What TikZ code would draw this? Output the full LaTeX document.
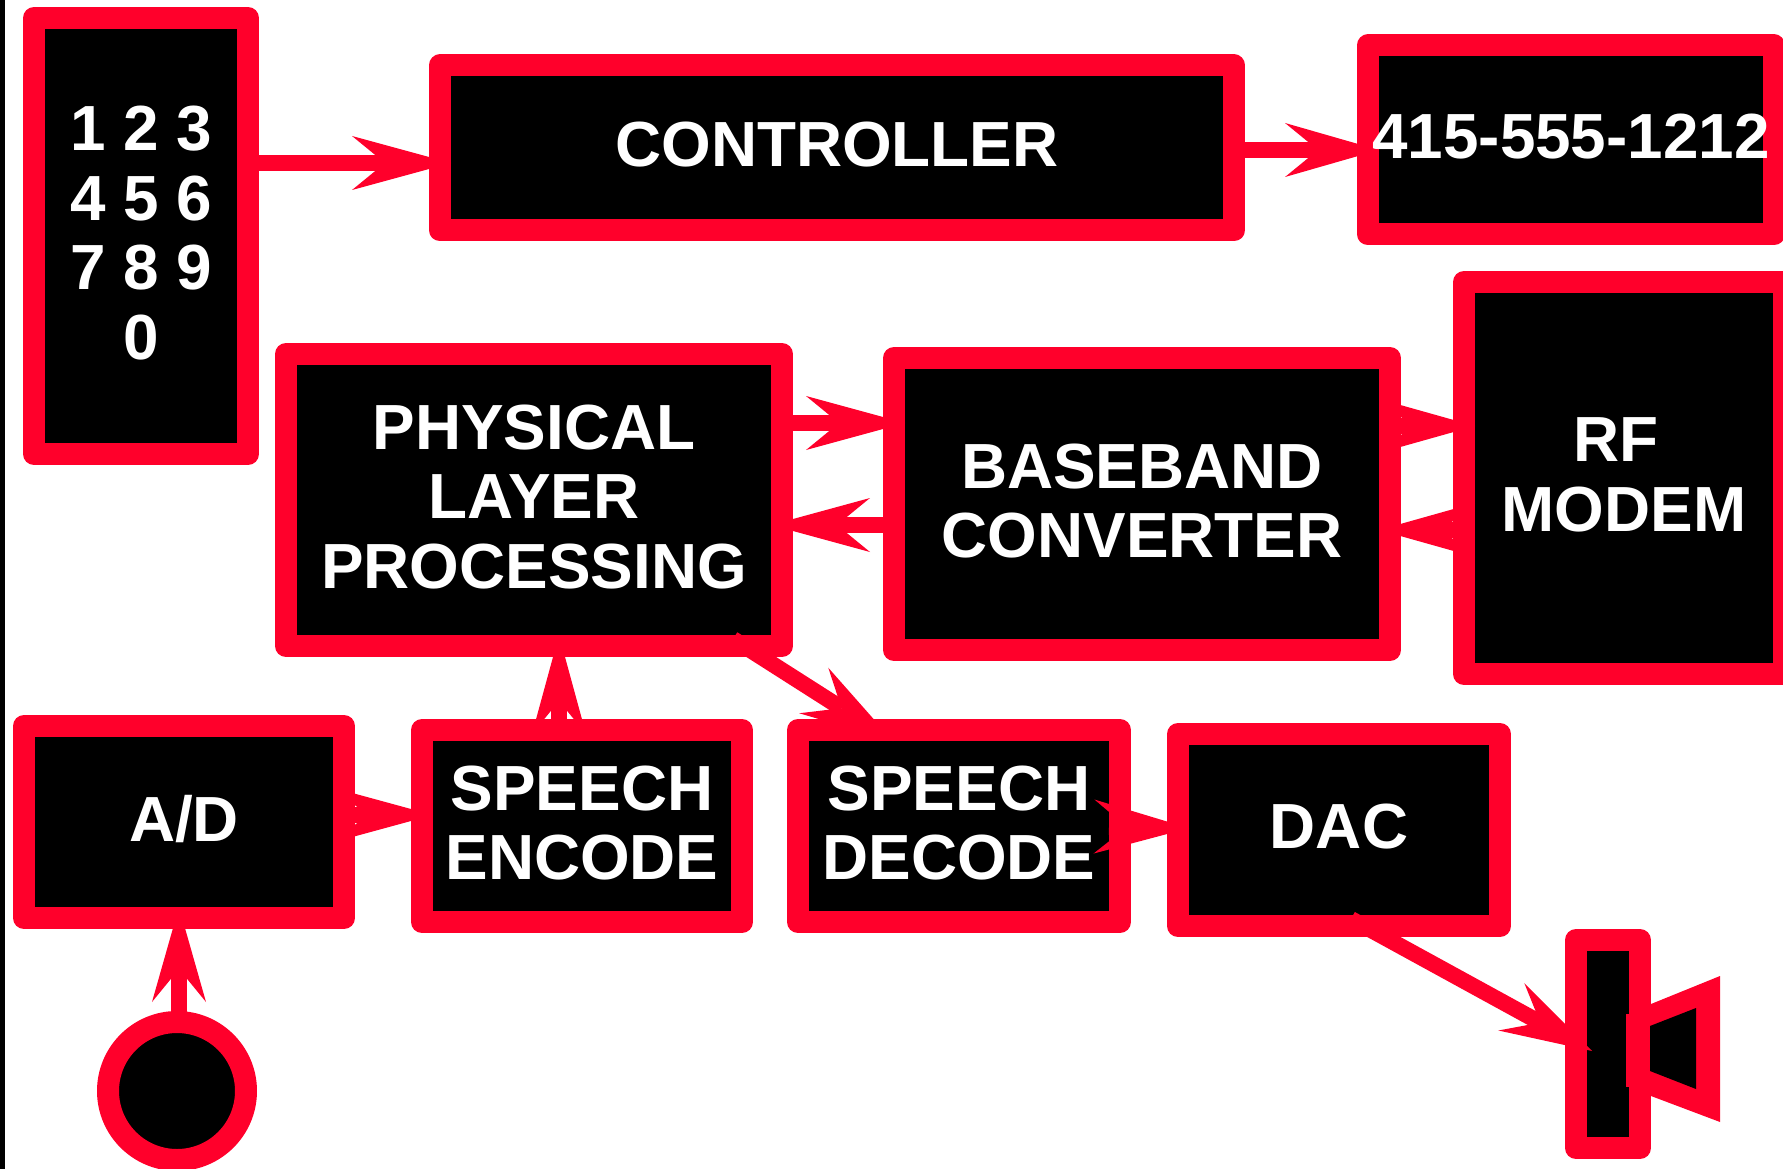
\documentclass[tikz,border=0pt]{standalone}
\usepackage{fontspec}
\setmainfont{Liberation Sans}
\usetikzlibrary{arrows.meta,calc}
\definecolor{hot}{HTML}{FF002B}
\tikzset{
  blk/.style={draw=hot,fill=black,text=white,line width=22pt,line join=round,inner sep=0pt,outer sep=0pt,align=center,
    font=\fontsize{63.8pt}{69.5pt}\selectfont\bfseries,
    execute at end node={\rule[-7pt]{0pt}{7pt}}},
  conn/.style={draw=hot,line width=16pt,-{Stealth[length=#1,width=54pt,inset=33pt,line width=0pt,sep=0pt]}},
  conn/.default=99pt,
  deep/.style={conn=#1,shorten >=-11pt,shorten <=-11pt},
  deep/.default=99pt,
}
\begin{document}
\begin{tikzpicture}[x=1pt,y=-1pt]
\useasboundingbox (0,0) rectangle (1783,1169);
\clip (0,0) rectangle (1783,1169);
\fill[black] (0,0) rectangle (5,1169);
\node[blk,minimum width=214pt,minimum height=436pt] (kp) at (141,236) {1 2 3\\4 5 6\\7 8 9\\0};
\node[blk,minimum width=794pt,minimum height=165pt] (ctrl) at (837,148) {CONTROLLER};
\node[blk,minimum width=406pt,minimum height=189pt] (phone) at (1571,140) {415-555-1212};
\node[blk,minimum width=496pt,minimum height=292pt] (phy) at (534,500) {PHYSICAL\\LAYER\\PROCESSING};
\node[blk,minimum width=496pt,minimum height=292pt] (bb) at (1142,504) {BASEBAND\\CONVERTER};
\node[blk,minimum width=320pt,minimum height=392pt] (rf) at (1624,478) {RF\hspace*{16pt}\\MODEM};
\node[blk,minimum width=320pt,minimum height=192pt] (ad) at (184,822) {A/D};
\node[blk,minimum width=320pt,minimum height=192pt] (enc) at (582,826) {SPEECH\\ENCODE};
\node[blk,minimum width=322pt,minimum height=192pt] (dec) at (959,826) {SPEECH\\DECODE};
\node[blk,minimum width=322pt,minimum height=192pt] (dac) at (1339,830) {DAC};
\node[blk,minimum width=64pt,minimum height=208pt] (spk) at (1608,1044) {};
\node[blk,circle,minimum size=138pt] (mic) at (177,1091) {};
% speaker cone
\fill[hot] (1651,1004) -- (1720,976) -- (1720,1122) -- (1651,1096) -- cycle;
\fill[hot] (1626,1014) rectangle (1651,1087);
\fill[black] (1650,1026) -- (1696,1008) -- (1696,1089) -- (1650,1071) -- cycle;
% connectors
\draw[deep] ([yshift=73pt]kp.east) -- ([yshift=-15pt]ctrl.west);
\draw[deep=94pt] ([yshift=-2pt]ctrl.east) -- ([yshift=-10pt]phone.west);
\draw[deep] ([yshift=77pt]phy.east) -- ([yshift=81pt]bb.west);
\draw[deep] ([yshift=-21pt]bb.west) -- ([yshift=-25pt]phy.east);
\draw[deep=96pt] ([yshift=78pt]bb.east) -- ([yshift=52pt]rf.west);
\draw[deep=96pt] ([yshift=-52pt]rf.west) -- ([yshift=-26pt]bb.east);
\draw[deep] ([yshift=7pt]ad.east) -- ([yshift=11pt]enc.west);
\draw[deep] ([xshift=-23pt]enc.north) -- ([xshift=25pt]phy.south);
\draw[deep=95pt] ([xshift=2pt]mic.north) -- ([xshift=-5pt]ad.south);
\draw[deep=95pt] ([yshift=-1pt]dec.east) -- ([yshift=2pt]dac.west);
\draw[conn=94pt] ([xshift=199pt,yshift=7pt]phy.south) -- ([xshift=-66pt,yshift=-11pt]dec.north);
\draw[conn=92pt] ([xshift=12pt,yshift=7pt]dac.south) -- ([xshift=16pt,yshift=-7pt]spk.west);
\end{tikzpicture}
\end{document}
